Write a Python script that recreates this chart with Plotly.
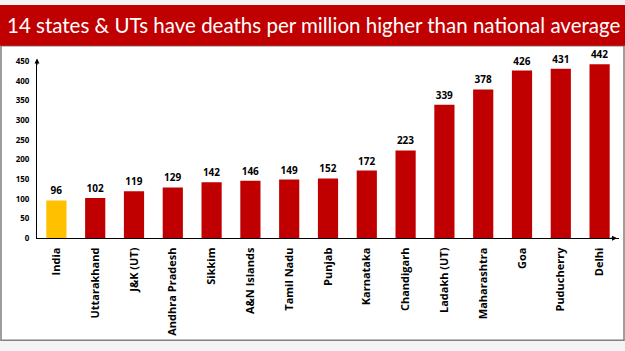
import plotly.graph_objects as go

categories = ["India", "Uttarakhand", "J&K (UT)", "Andhra Pradesh", "Sikkim", "A&N Islands",
              "Tamil Nadu", "Punjab", "Karnataka", "Chandigarh", "Ladakh (UT)", "Maharashtra",
              "Goa", "Puducherry", "Delhi"]
values = [96, 102, 119, 129, 142, 146, 149, 152, 172, 223, 339, 378, 426, 431, 442]
colors = ["#FFC000"] + ["#C00000"] * 14
yticks = [0, 50, 100, 150, 200, 250, 300, 350, 400, 450]
title = "14 states & UTs have deaths per million higher than national average"

W, H = 625, 351
x0, x1 = 37 / W, 619 / W
y0, y1 = (H - 240) / H, (H - 57) / H

fig = go.Figure(go.Bar(
    x=categories, y=values, marker_color=colors, marker_line_width=0,
    text=[f"<b>{v}</b>" for v in values], textposition="outside",
    textfont=dict(family="Open Sans", size=10, color="#000000"),
    cliponaxis=False, width=0.52,
))

fig.update_layout(
    width=W, height=H, margin=dict(l=0, r=0, t=0, b=0),
    paper_bgcolor="#F4F4F4", plot_bgcolor="rgba(0,0,0,0)",
    showlegend=False,
    xaxis=dict(domain=[x0, x1], showline=True, linecolor="#000000", linewidth=1,
               tickangle=-90, tickfont=dict(family="Open Sans", size=11, color="#000000"),
               ticks="", showgrid=False, ticklabelstandoff=4,
               tickvals=categories, ticktext=[f"<b>{c}</b>" for c in categories]),
    yaxis=dict(domain=[y0, y1], range=[0, 452], showline=True, linecolor="#000000", linewidth=1,
               tickvals=yticks, ticktext=[f"<b>{t}</b>" for t in yticks],
               tickfont=dict(family="Open Sans", size=8, color="#000000"),
               showgrid=False, zeroline=False, ticks="", ticklabelstandoff=5),
    shapes=[
        dict(type="rect", xref="paper", yref="paper", x0=1 / W, x1=624 / W, y0=(H - 345) / H, y1=(H - 42) / H,
             fillcolor="#FFFFFF", line=dict(color="#808080", width=1.5), layer="below"),
        dict(type="rect", xref="paper", yref="paper", x0=0, x1=1, y0=(H - 42) / H, y1=1,
             fillcolor="#C00000", line=dict(width=0), layer="below"),
    ],
    annotations=[
        dict(text=title, xref="paper", yref="paper", x=(313) / W, y=(H - 21) / H, showarrow=False,
             font=dict(family="Lato", size=20.5, color="#FFFFFF"), xanchor="center", yanchor="middle"),
        dict(xref="paper", yref="paper", x=x0, y=(H - 55) / H, ax=0, ay=8, text="",
             showarrow=True, arrowhead=2, arrowsize=1, arrowwidth=1, arrowcolor="#000000"),
        dict(xref="paper", yref="paper", x=617 / W, y=y0, ax=-8, ay=0, text="",
             showarrow=True, arrowhead=2, arrowsize=1, arrowwidth=1, arrowcolor="#000000"),
    ],
)

fig.write_html("out.html")
